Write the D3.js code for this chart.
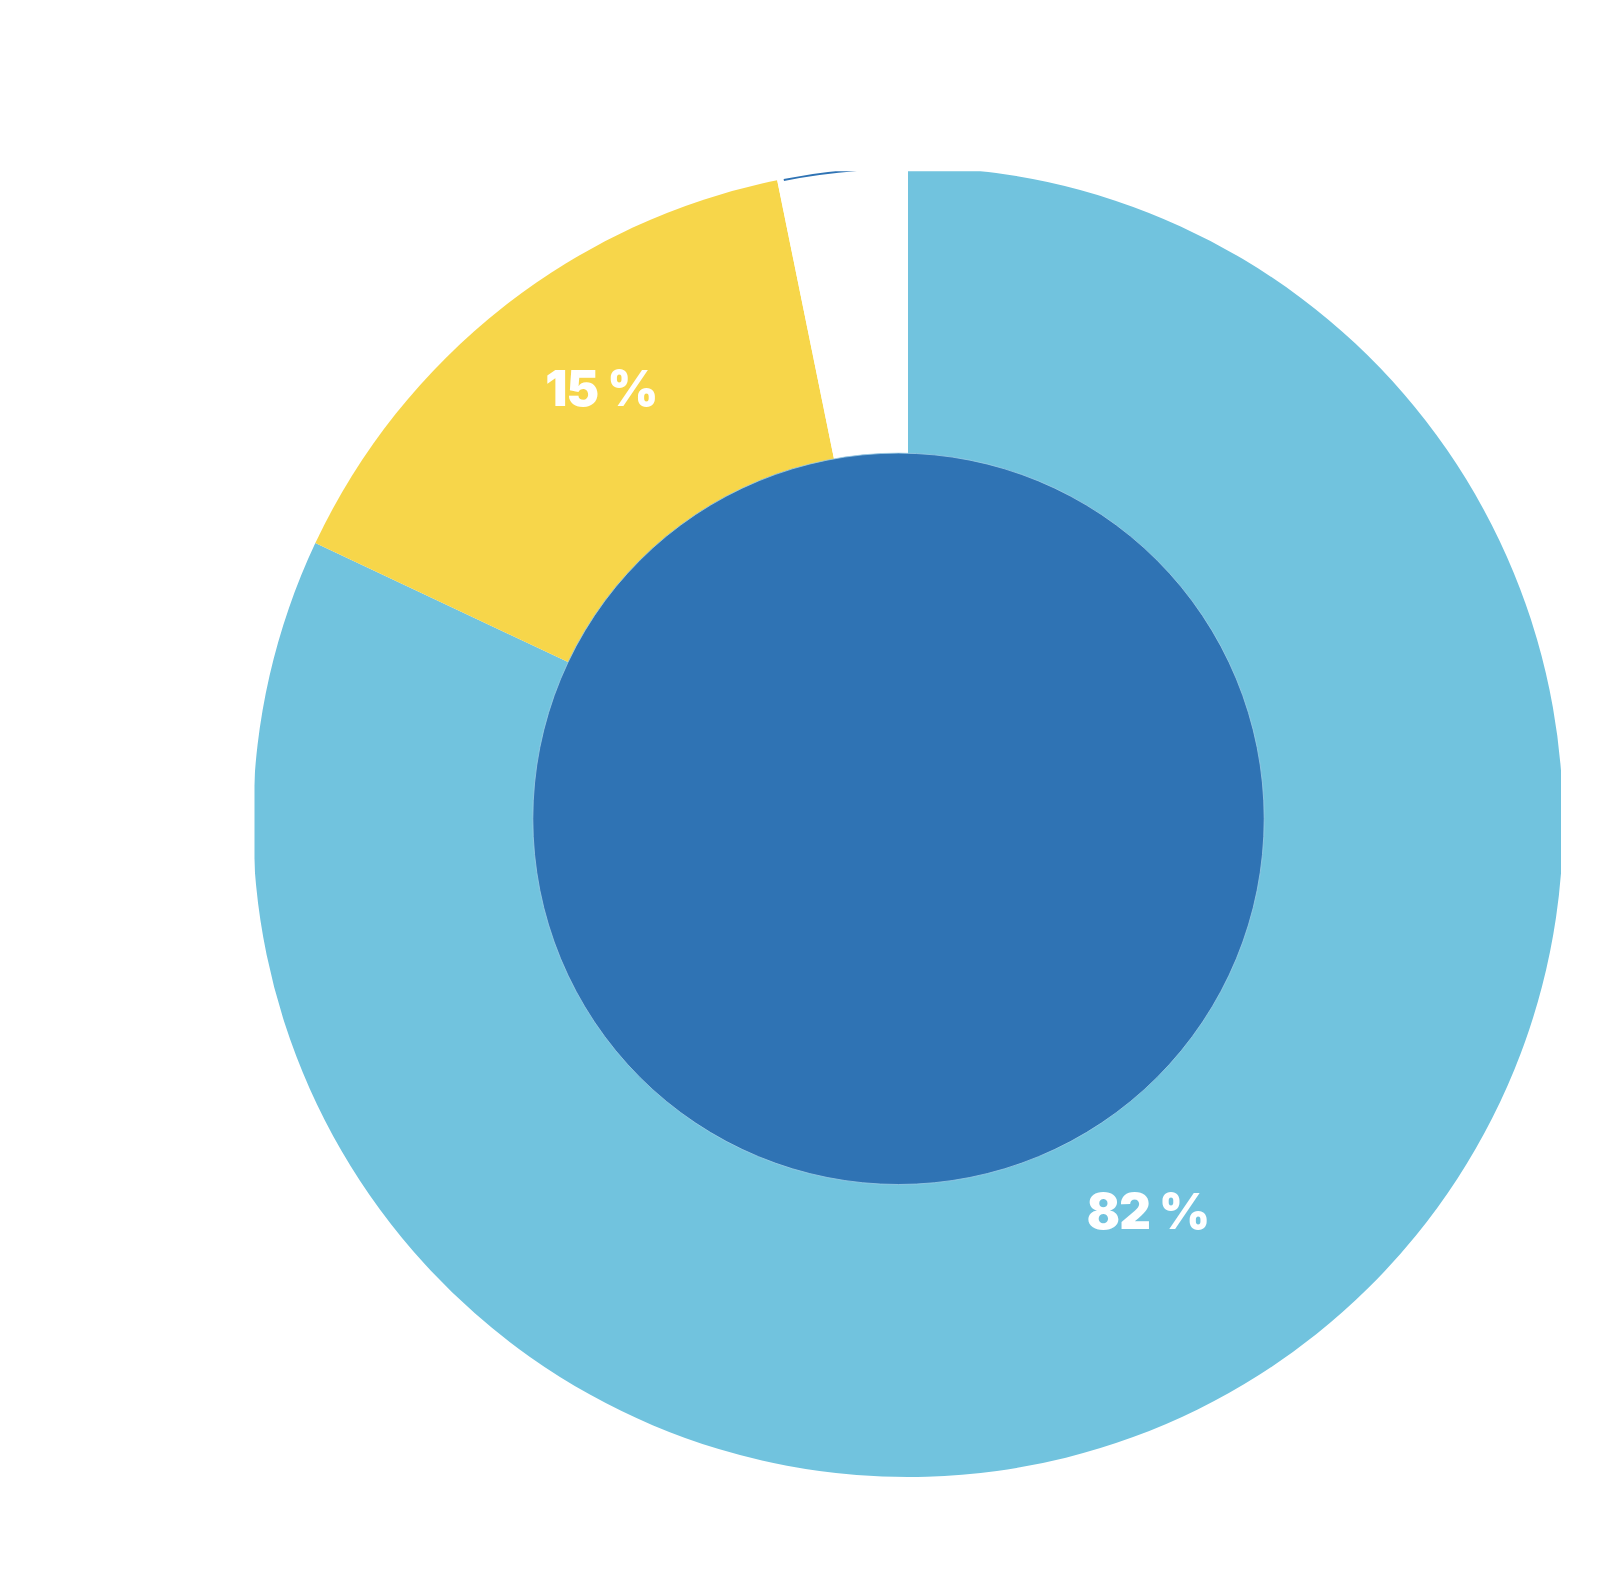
<!DOCTYPE html>
<html>
<head>
<meta charset="utf-8">
<script src="https://cdn.jsdelivr.net/npm/d3@7"></script>
<style>
  html, body { margin: 0; padding: 0; background: #ffffff; }
  svg { display: block; }
</style>
</head>
<body>
<svg id="chart" width="1599" height="1587"></svg>
<script>
// ---- data ----
const categories = ["A", "B", "C"];
const values = [82, 14.8, 3.2];
const labels = ["82 %", "15 %", ""];
const colors = ["#71c3de", "#f7d64a", "#ffffff"];

// ---- layout ----
const W = 1599, H = 1587;
const cx = 908, cy = 822, R = 655;
const innerCx = 898.5, innerCy = 818.8, innerR = 365.7;
const labelRadius = [457, 531, 0];
const labelAngleShift = [0.7, 2.9, 0]; // degrees

const svg = d3.select("#chart");

svg.append("defs").append("clipPath").attr("id", "clip")
  .append("rect").attr("x", 254.5).attr("y", 171.3).attr("width", 1561 - 254.5).attr("height", H);

const pie = d3.pie().sort(null).value(d => d)(values);
const arc = d3.arc().innerRadius(0).outerRadius(R);

const g = svg.append("g").attr("clip-path", "url(#clip)")
  .append("g").attr("transform", `translate(${cx},${cy})`);

g.selectAll("path.slice").data(pie).join("path")
  .attr("class", "slice")
  .attr("d", arc)
  .attr("fill", (d, i) => colors[i]);

// thin dark rim on the last (white) slice
const last = pie[pie.length - 1];
g.append("path")
  .attr("d", d3.arc().innerRadius(R - 2).outerRadius(R)
    .startAngle(last.startAngle + 0.01).endAngle(last.endAngle)())
  .attr("fill", "#2f73b4");

// inner dark circle
svg.append("circle")
  .attr("cx", innerCx).attr("cy", innerCy).attr("r", innerR)
  .attr("fill", "#2f73b4")
  .attr("stroke", "#9ccde6").attr("stroke-width", 0.8);

// labels
const lg = svg.append("g").attr("transform", `translate(${cx},${cy})`);
pie.forEach((d, i) => {
  if (!labels[i]) return;
  const a = (d.startAngle + d.endAngle) / 2 + labelAngleShift[i] * Math.PI / 180;
  const r = labelRadius[i];
  lg.append("text")
    .attr("x", Math.sin(a) * r)
    .attr("y", -Math.cos(a) * r)
    .attr("dy", 18)
    .attr("text-anchor", "middle")
    .attr("font-family", "Inter, 'Open Sans', sans-serif")
    .attr("font-weight", 900)
    .attr("font-size", 49)
    .attr("letter-spacing", -0.8)
    .attr("fill", "#ffffff")
    .text(labels[i]);
});
</script>
</body>
</html>
